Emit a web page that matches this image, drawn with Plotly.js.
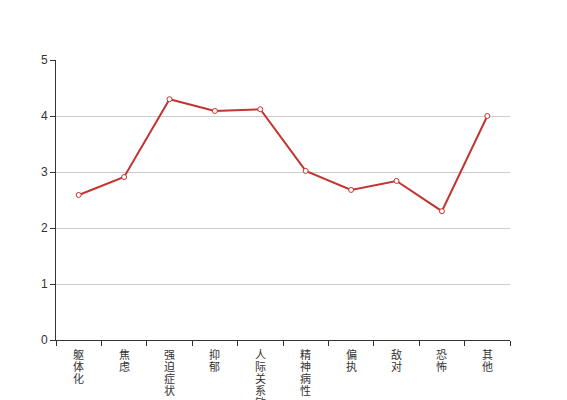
<!DOCTYPE html>
<html>
<head>
<meta charset="utf-8">
<script src="https://cdn.plot.ly/plotly-3.0.1.min.js"></script>
<style>html,body{margin:0;padding:0;background:#fff;}#chart{width:567px;height:400px;}</style>
</head>
<body>
<div id="chart"></div>
<script>
var categories = ["躯体化", "焦虑", "强迫症状", "抑郁", "人际关系敏感", "精神病性", "偏执", "敌对", "恐怖", "其他"];
var values = [2.59, 2.91, 4.30, 4.09, 4.12, 3.02, 2.68, 2.84, 2.30, 4.00];
var yTicks = [0, 1, 2, 3, 4, 5];

// vertical category labels: one annotation per character, stacked under each category
var annotations = [];
categories.forEach(function (c) {
  c.split("").forEach(function (ch, i) {
    annotations.push({
      x: c, xref: "x",
      y: 0, yref: "paper",
      text: ch,
      showarrow: false,
      xanchor: "center",
      yanchor: "middle",
      borderpad: 0,
      yshift: -(14 + i * 12),
      font: { family: "Noto Sans CJK SC, sans-serif", size: 11, color: "#333333" }
    });
  });
});

var trace = {
  type: "scatter",
  mode: "lines+markers",
  x: categories,
  y: values,
  line: { color: "#c23531", width: 2 },
  marker: { symbol: "circle", size: 5, color: "#ffffff", line: { color: "#c23531", width: 1 } },
  cliponaxis: false,
  hoverinfo: "x+y"
};

var layout = {
  width: 567,
  height: 400,
  margin: { l: 56, r: 57, t: 60, b: 60, pad: 0 },
  paper_bgcolor: "#ffffff",
  plot_bgcolor: "#ffffff",
  showlegend: false,
  font: { family: "Liberation Sans, Noto Sans CJK SC, sans-serif", size: 12, color: "#333333" },
  annotations: annotations,
  xaxis: {
    type: "category",
    range: [-0.5, categories.length - 0.5],
    tickmode: "array",
    tickvals: categories,
    tickson: "boundaries",
    ticks: "outside",
    ticklen: 5,
    tickcolor: "#333333",
    showticklabels: false,
    showline: true,
    linecolor: "#333333",
    linewidth: 1,
    showgrid: false,
    zeroline: false,
    fixedrange: true
  },
  yaxis: {
    range: [0, 5],
    tickmode: "array",
    tickvals: yTicks,
    ticks: "outside",
    ticklen: 5,
    tickcolor: "#333333",
    showline: true,
    linecolor: "#333333",
    linewidth: 1,
    showgrid: true,
    gridcolor: "#cccccc",
    gridwidth: 1,
    zeroline: false,
    tickfont: { size: 12, color: "#333333" },
    fixedrange: true
  }
};

Plotly.newPlot("chart", [trace], layout, { displayModeBar: false, staticPlot: true });
</script>
</body>
</html>
